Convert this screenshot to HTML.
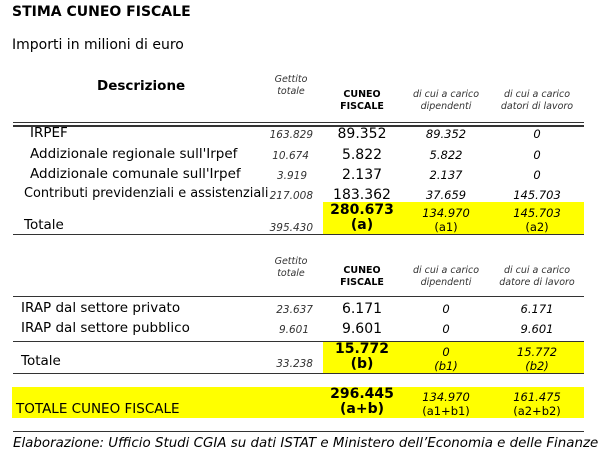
<!DOCTYPE html>
<html><head><meta charset="utf-8"><style>
body{margin:0;width:612px;height:463px;background:#fff;position:relative;font-family:"DejaVu Sans","Liberation Sans",sans-serif;color:#000;overflow:hidden}
.a{position:absolute;white-space:nowrap;line-height:1}
.c{transform:translateX(-50%);text-align:center}
.r{transform:translateX(-100%)}
.g{font-style:italic;font-size:10.5px;color:#333}
.h{font-size:9.5px;font-style:italic;color:#333;line-height:12px}
.hb{font-size:9.5px;font-weight:bold;line-height:12px}
.t{font-size:13px}
.v{font-size:14px}
.i{font-style:italic;font-size:11.5px}
.y{position:absolute;background:#ffff00}
.l{position:absolute;height:1px;background:#333}
</style></head><body>
<div class="a" style="left:12px;top:5px;font-weight:bold;font-size:14px">STIMA CUNEO FISCALE</div>
<div class="a" style="left:12px;top:38px;font-size:14px">Importi in milioni di euro</div>

<div class="a" style="left:97px;top:80px;font-weight:bold;font-size:13.5px">Descrizione</div>
<div class="a c h" style="left:291px;top:74px">Gettito<br>totale</div>
<div class="a c hb" style="left:362px;top:89px">CUNEO<br>FISCALE</div>
<div class="a c h" style="left:446px;top:89px">di cui a carico<br>dipendenti</div>
<div class="a c h" style="left:537px;top:89px">di cui a carico<br>datori di lavoro</div>
<div class="l" style="left:13px;top:122px;width:571px;height:1px;background:#333"></div>
<div class="l" style="left:13px;top:125px;width:571px;height:2px;background:#333"></div>

<div class="a t" style="left:30px;top:127px;font-size:13.5px">IRPEF</div>
<div class="a t" style="left:30px;top:148px;font-size:13.5px">Addizionale regionale sull'Irpef</div>
<div class="a t" style="left:30px;top:168px;font-size:13.5px">Addizionale comunale sull'Irpef</div>
<div class="a t" style="left:24px;top:188px;font-size:12.9px">Contributi previdenziali e assistenziali</div>

<div class="a g r" style="left:313px;top:130px">163.829</div>
<div class="a g r" style="left:309px;top:151px">10.674</div>
<div class="a g r" style="left:307px;top:171px">3.919</div>
<div class="a g r" style="left:313px;top:191px">217.008</div>

<div class="a c v" style="left:362px;top:127px">89.352</div>
<div class="a c v" style="left:362px;top:148px">5.822</div>
<div class="a c v" style="left:362px;top:168px">2.137</div>
<div class="a c v" style="left:362px;top:188px">183.362</div>

<div class="a c i" style="left:446px;top:129px">89.352</div>
<div class="a c i" style="left:446px;top:150px">5.822</div>
<div class="a c i" style="left:446px;top:170px">2.137</div>
<div class="a c i" style="left:446px;top:190px">37.659</div>

<div class="a c i" style="left:537px;top:129px">0</div>
<div class="a c i" style="left:537px;top:150px">0</div>
<div class="a c i" style="left:537px;top:170px">0</div>
<div class="a c i" style="left:537px;top:190px">145.703</div>

<div class="y" style="left:323px;top:202px;width:261px;height:32px"></div>
<div class="a c v" style="left:362px;top:203px;font-weight:bold;line-height:15px">280.673<br>(a)</div>
<div class="a c i" style="left:446px;top:206px;line-height:14px">134.970<br><span style="font-style:normal">(a1)</span></div>
<div class="a c i" style="left:537px;top:206px;line-height:14px">145.703<br><span style="font-style:normal">(a2)</span></div>
<div class="a t" style="left:24px;top:219px;font-size:13.5px">Totale</div>
<div class="a g r" style="left:313px;top:223px">395.430</div>
<div class="l" style="left:13px;top:234px;width:571px"></div>

<div class="a c h" style="left:291px;top:256px">Gettito<br>totale</div>
<div class="a c hb" style="left:362px;top:265px">CUNEO<br>FISCALE</div>
<div class="a c h" style="left:446px;top:265px">di cui a carico<br>dipendenti</div>
<div class="a c h" style="left:537px;top:265px">di cui a carico<br>datore di lavoro</div>
<div class="l" style="left:13px;top:296px;width:571px"></div>

<div class="a t" style="left:21px;top:302px;font-size:13.5px">IRAP dal settore privato</div>
<div class="a t" style="left:21px;top:322px;font-size:13.5px">IRAP dal settore pubblico</div>
<div class="a g r" style="left:313px;top:305px">23.637</div>
<div class="a g r" style="left:309px;top:325px">9.601</div>
<div class="a c v" style="left:362px;top:302px">6.171</div>
<div class="a c v" style="left:362px;top:322px">9.601</div>
<div class="a c i" style="left:446px;top:304px">0</div>
<div class="a c i" style="left:446px;top:324px">0</div>
<div class="a c i" style="left:537px;top:304px">6.171</div>
<div class="a c i" style="left:537px;top:324px">9.601</div>
<div class="l" style="left:13px;top:341px;width:571px"></div>

<div class="y" style="left:323px;top:342px;width:261px;height:31px"></div>
<div class="a c v" style="left:362px;top:342px;font-weight:bold;line-height:15px">15.772<br>(b)</div>
<div class="a c i" style="left:446px;top:345px;line-height:14px">0<br>(b1)</div>
<div class="a c i" style="left:537px;top:345px;line-height:14px">15.772<br>(b2)</div>
<div class="a t" style="left:21px;top:355px;font-size:13.5px">Totale</div>
<div class="a g r" style="left:313px;top:359px">33.238</div>
<div class="l" style="left:13px;top:373px;width:571px"></div>

<div class="y" style="left:12px;top:387px;width:572px;height:31px"></div>
<div class="a t" style="left:16px;top:403px;font-size:13.5px">TOTALE CUNEO FISCALE</div>
<div class="a c v" style="left:362px;top:387px;font-weight:bold;line-height:15px">296.445<br>(a+b)</div>
<div class="a c i" style="left:446px;top:390px;line-height:14px">134.970<br><span style="font-style:normal">(a1+b1)</span></div>
<div class="a c i" style="left:537px;top:390px;line-height:14px">161.475<br><span style="font-style:normal">(a2+b2)</span></div>

<div class="l" style="left:13px;top:431px;width:571px"></div>
<div class="a" style="left:13px;top:437px;font-style:italic;font-size:13.4px">Elaborazione: Ufficio Studi CGIA su dati ISTAT e Ministero dell’Economia e delle Finanze</div>
</body></html>
